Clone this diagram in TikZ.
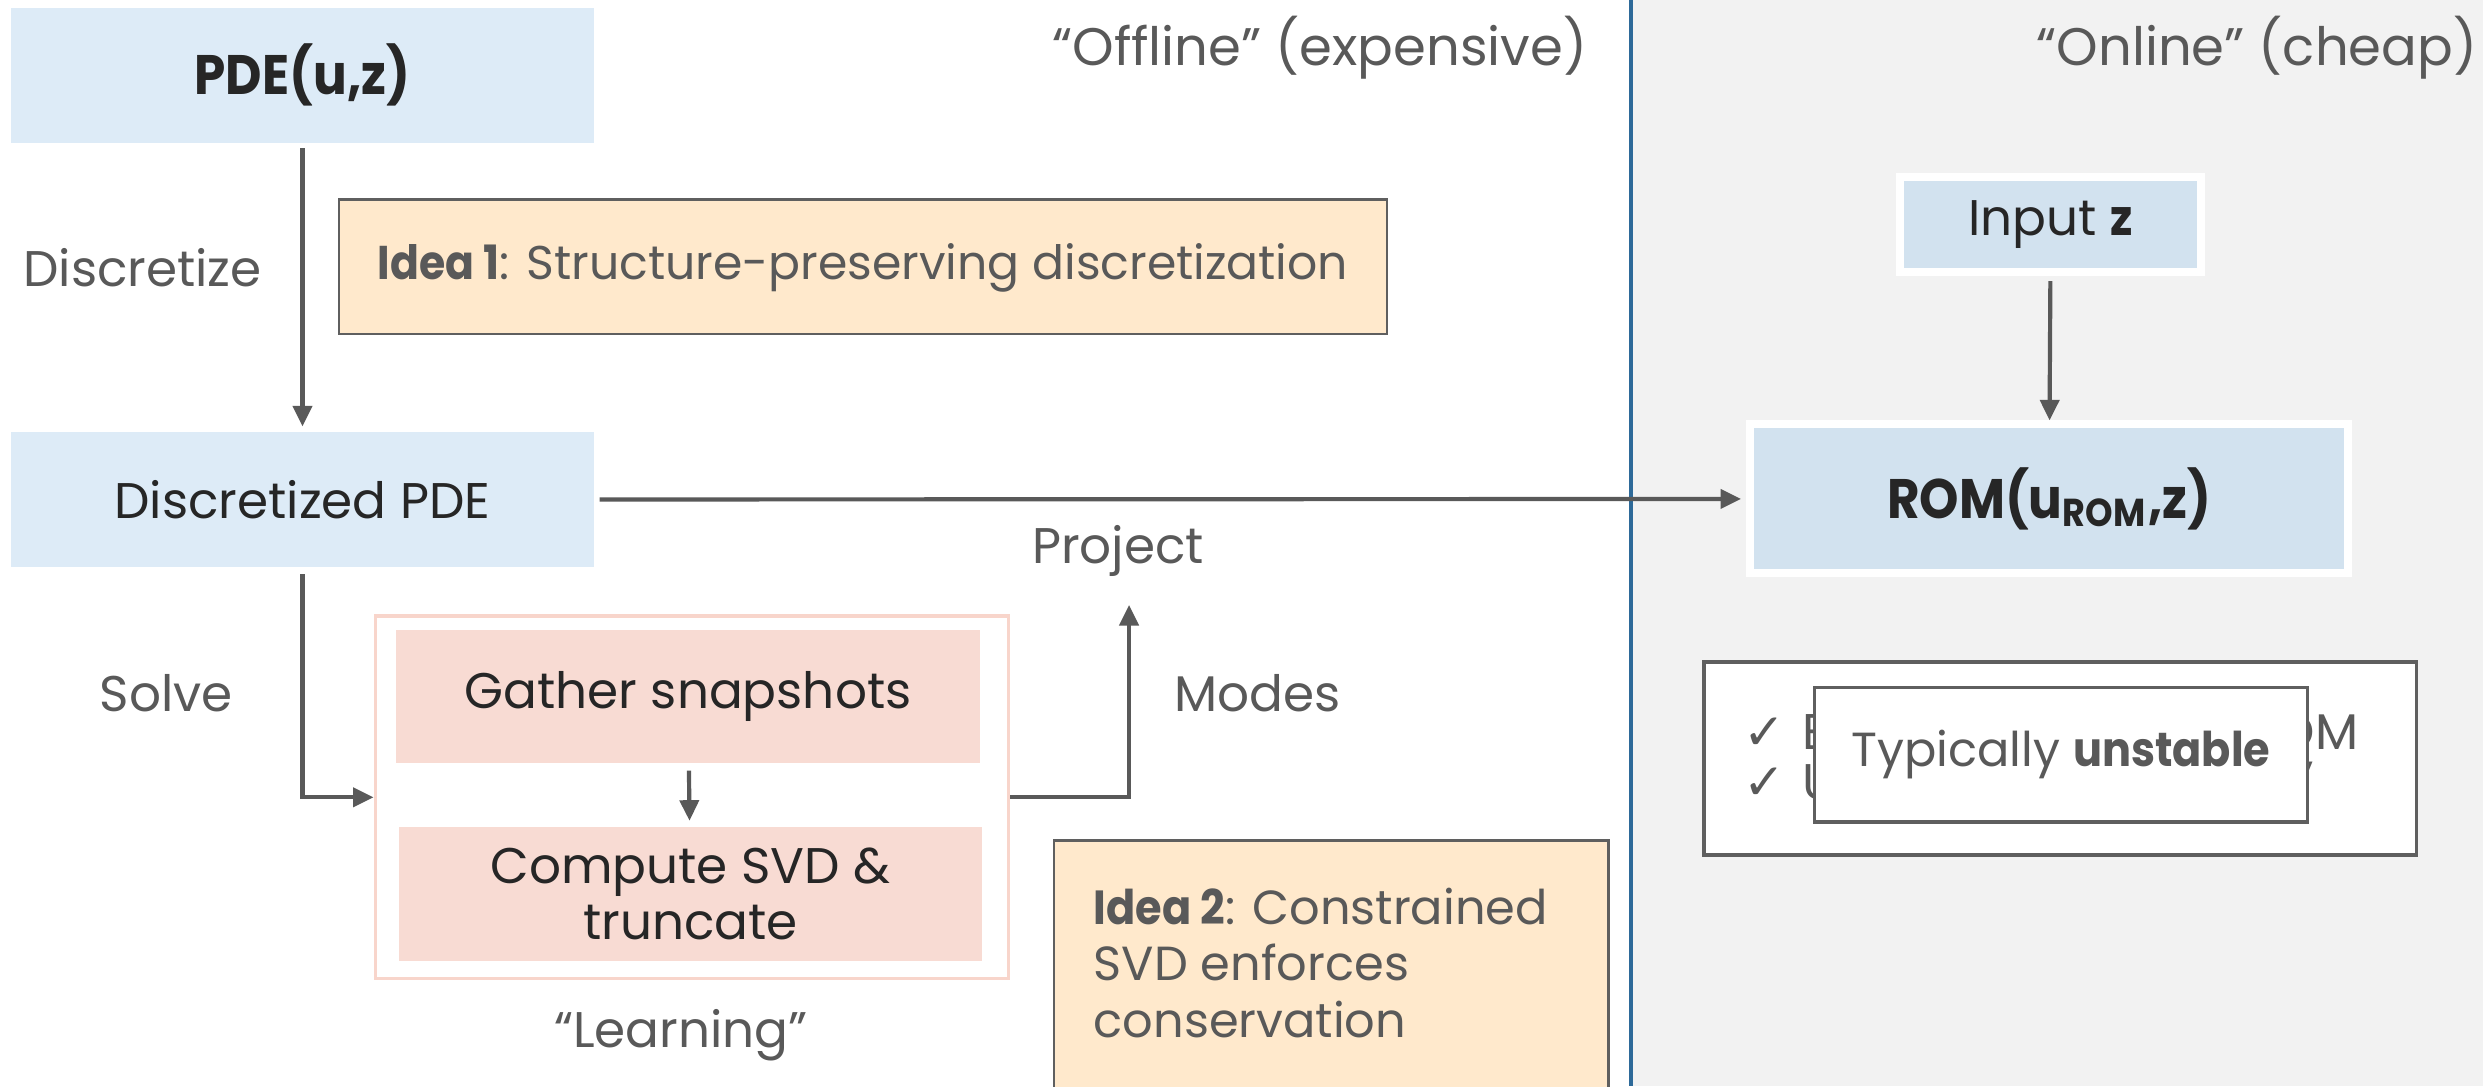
\documentclass[tikz,border=0pt]{standalone}
\usepackage{fontspec}
\setmainfont{Poppins}[BoldFeatures={FakeStretch=0.9}]
\newfontfamily\symfont{DejaVu Sans}
\usetikzlibrary{arrows.meta}
\definecolor{txtgray}{HTML}{595959}
\definecolor{txtdark}{HTML}{262626}
\definecolor{boxblue}{HTML}{DDEBF7}
\definecolor{romblue}{HTML}{D2E2EF}
\definecolor{ideaorange}{HTML}{FFE9CC}
\definecolor{learnpink}{HTML}{F8DBD3}
\definecolor{learnedge}{HTML}{F8D5CB}
\definecolor{onlinebg}{HTML}{F2F2F2}
\definecolor{divider}{HTML}{2E6A99}
\definecolor{linegray}{HTML}{595959}
\definecolor{edgegray}{HTML}{5F5F5F}
\begin{document}
\begin{tikzpicture}[x=0.1mm,y=-0.1mm,
  base/.style={font=\fontsize{9}{10.2}\selectfont},
  lbl/.style={base,text=txtgray,inner sep=0pt},
  heading/.style={lbl,font=\fontsize{9.5}{11}\selectfont},
  ideatext/.style={lbl,font=\fontsize{8.5}{10.2}\selectfont},
  bluebox/.style={base,fill=boxblue,text=txtdark,minimum width=36.8mm,minimum height=8.5mm,inner sep=0pt},
  rombox/.style={base,fill=romblue,draw=white,line width=0.5mm,text=txtdark,inner sep=0pt},
  pinkbox/.style={base,fill=learnpink,text=txtdark,minimum width=36.8mm,minimum height=8.5mm,inner sep=0pt,align=center},
  ideabox/.style={fill=ideaorange,draw=edgegray,line width=0.4pt,inner sep=0pt},
  plainbox/.style={base,fill=white,draw=edgegray,line width=0.6pt,text=txtgray,inner sep=0pt},
  tick/.style={lbl,anchor=west},
  conn/.style={draw=linegray,line width=0.75pt,-{Triangle[length=1.3mm,width=1.2mm]}},
  ]
\useasboundingbox (0,0) rectangle (1568,686);
% offline / online halves
\fill[white] (0,0) rectangle (1030,686);
\fill[onlinebg] (1030,0) rectangle (1568,686);

% headings
\node[heading,anchor=east] (offline) at (1003,30) {“Offline” (expensive)};
\node[heading,anchor=east] (online) at (1565,30) {“Online” (cheap)};

% offline stage
\node[bluebox,font=\fontsize{10}{12}\selectfont\bfseries] (pde) at (191,47.5) {PDE(u,z)};
\node[bluebox] (dpde) at (191,315.5) {Discretized PDE};
\node[lbl] (disclbl) at (90,169) {Discretize};
\node[ideabox,minimum width=66.2mm,minimum height=8.5mm] (idea1) at (545,168.5) {};
\node[ideatext,anchor=west] (idea1txt) at (238,169) {\textbf{Idea 1}: Structure-preserving discretization};

\node[draw=learnedge,fill=white,line width=0.6pt,minimum width=40mm,minimum height=22.9mm,inner sep=0pt] (learn) at (437,503.5) {};
\node[pinkbox,minimum width=36.9mm,minimum height=8.4mm] (gather) at (434.5,440) {Gather snapshots};
\node[pinkbox] (svd) at (436,564.5) {Compute SVD \&\\truncate};
\node[lbl] (learnlbl) at (430,654) {“Learning”};
\node[lbl] (solvelbl) at (105,438) {Solve};
\node[lbl] (modeslbl) at (794,438) {Modes};
\node[lbl] (projlbl) at (706,348) {Project};
\coordinate (projtip) at (713,382);

\node[ideabox,minimum width=35mm,minimum height=16mm,anchor=north west] (idea2) at (665,530) {};
\node[ideatext,anchor=west,align=left,font=\fontsize{8.6}{10.2}\selectfont] (idea2txt) at (690,608) {\textbf{Idea 2}: Constrained\\SVD enforces\\conservation};

% divider between the stages
\draw[divider,line width=0.8pt] (1030,0) -- (1030,686);

% online stage
\node[rombox,minimum width=19mm,minimum height=6mm] (inputz) at (1295,142) {Input \textbf{z}};
\node[rombox,minimum width=37.8mm,minimum height=9.4mm,font=\fontsize{10}{12}\selectfont\bfseries] (rom) at (1294,315) {ROM(u\textsubscript{ROM},z)};

\node[plainbox,minimum width=45mm,minimum height=12.2mm] (checks) at (1301,479) {};
\node[tick] (chk1) at (1100,462) {{\symfont\fontsize{9}{10}\selectfont ✓}\hspace{1.1mm}E};
\node[lbl,anchor=east] (chk1end) at (1490,462) {OM};
\node[tick] (chk2) at (1100,494) {{\symfont\fontsize{9}{10}\selectfont ✓}\hspace{1.1mm}U};
\node[lbl,anchor=east] (chk2end) at (1462,494) {y};
\node[plainbox,minimum width=31.1mm,minimum height=8.5mm,font=\fontsize{8.6}{10}\selectfont] (typ) at (1301.5,476.5) {Typically \textbf{unstable}};

% connectors
\draw[conn,shorten <=0.3mm,shorten >=0.3mm] (pde) -- (dpde);
\draw[conn,shorten <=0.3mm,shorten >=0.3mm] (dpde) -- (rom);
\draw[conn,shorten <=0.4mm] (dpde.south) |- (learn.west);
\draw[conn,shorten <=0.4mm,shorten >=0.3mm] (gather) -- (svd);
\draw[conn] (learn.east) -| (projtip);
\draw[conn,shorten <=0.3mm] (inputz) -- (rom);
\end{tikzpicture}
\end{document}
